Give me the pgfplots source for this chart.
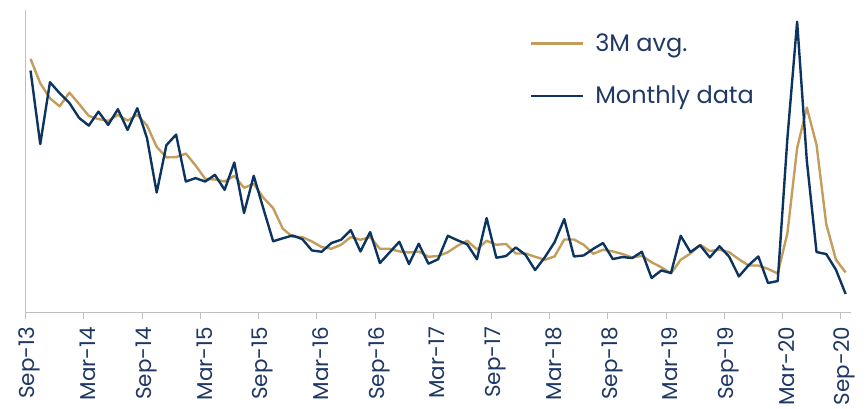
\documentclass[border=0pt]{standalone}
\usepackage{pgfplots}
\usepackage{pgfplotstable}
\pgfplotsset{compat=1.18}
\usepackage{fontspec}
\setmainfont{Poppins}
\definecolor{navy}{RGB}{12,52,97}
\definecolor{gold}{RGB}{196,157,92}
\definecolor{axgray}{RGB}{191,191,191}
\definecolor{labblue}{RGB}{31,56,100}

\pgfplotstableread{
x m a
0.5 242.3 254
1.5 168.7 229.7
2.5 230.7 214.7
3.5 219.7 206.5
4.5 210 220.3
5.5 195 209
6.5 187.3 197
7.5 201.3 193.8
8.5 188 192
9.5 203.7 198
10.5 183 192.3
11.5 204.7 198
12.5 174.7 187.5
13.5 120.3 166
14.5 167.7 155.5
15.5 178.3 155.7
16.5 131.3 159.3
17.5 134.7 147.5
18.5 131.3 134
19.5 138 133.3
20.5 123 131.3
21.5 150.3 137
22.5 99.7 125
23.5 137 129
24.5 104 115
25.5 71.5 104.7
26.5 74.5 84
27.5 77.3 76
28.5 73.7 75.7
29.5 62.3 71.3
30.5 61 65.7
31.5 69.7 64
32.5 73 68
33.5 82.7 75.7
34.5 61.3 73
35.5 80.7 75.7
36.5 49.7 64
37.5 60.3 64
38.5 71 61.3
39.5 48.7 60.3
40.5 69 61.3
41.5 49 56
42.5 53.5 56.7
43.5 77 60.5
44.5 72.5 67
45.5 68.5 72
46.5 53.5 63.3
47.5 94.7 72
48.5 55 68
49.5 56.7 68.8
50.5 65.3 59.3
51.5 58 59.3
52.5 42.7 56
53.5 55.5 53
54.5 70.5 56.3
55.5 93.7 73.3
56.5 56.3 73.3
57.5 57.3 68
58.5 64 59
59.5 69.7 63
60.5 53.7 61.3
61.5 55.7 58.8
62.5 54.7 55.2
63.5 61 57
64.5 34.7 50.5
65.5 42.3 45.5
66.5 39.7 39.3
67.5 77 53
68.5 60.7 59.2
69.5 67.5 68
70.5 55.3 61.7
71.5 66.5 63
72.5 56 60.5
73.5 36.3 53.5
74.5 47.5 47.2
75.5 56.3 47.2
76.5 29.7 43.8
77.5 31.7 39.3
78.5 175 79.7
79.5 291.3 164.7
80.5 152 205.3
81.5 60.7 168
82.5 58.7 88.7
83.5 43 53
84.5 18.7 40.3
}\data

\begin{document}
\begin{tikzpicture}[x=1pt,y=1pt]
\useasboundingbox (-25.7,-96.3) rectangle (842.3,312.7);
\begin{axis}[
  at={(0,0)}, anchor=south west,
  scale only axis, width=824.8pt, height=302.7pt,
  xmin=0, xmax=85, ymin=0, ymax=303,
  axis x line*=bottom, axis y line*=left,
  axis line style={draw=axgray, line width=1pt},
  ytick=\empty,
  xtick={0,6,...,84},
  xticklabels={Sep-13,Mar-14,Sep-14,Mar-15,Sep-15,Mar-16,Sep-16,Mar-17,Sep-17,Mar-18,Sep-18,Mar-19,Sep-19,Mar-20,Sep-20},
  xtick align=outside,
  major tick length=6.6pt,
  tick style={draw=axgray, line width=1pt},
  x tick label style={rotate=90, anchor=east, font=\fontsize{21.5}{24}\selectfont, text=labblue, inner sep=0pt, xshift=-7.5pt, yshift=-4pt},
  legend style={draw=none, fill=none, at={(0.611,0.928)}, anchor=north west,
    font=\fontsize{24}{27}\selectfont, text=labblue, row sep=29pt, inner sep=0pt,
    cells={anchor=west},
    /tikz/every odd column/.append style={column sep=9pt}},
  legend image code/.code={\draw[#1] (0pt,0pt) -- (52pt,0pt);},
  clip=false,
]
\addplot[gold, line width=2.4pt, line join=round] table[x=x, y=a] {\data};
\addlegendentry{3M avg.}
\addplot[navy, line width=2.4pt, line join=round] table[x=x, y=m] {\data};
\addlegendentry{Monthly data}
\end{axis}
\end{tikzpicture}
\end{document}
